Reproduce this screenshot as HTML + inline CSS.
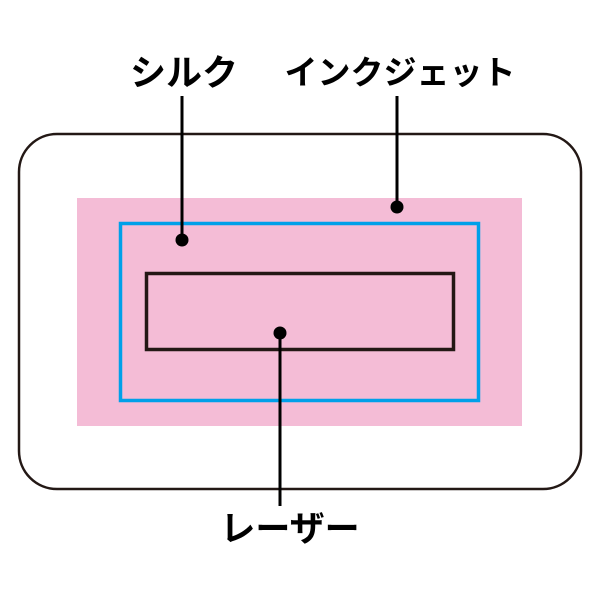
<!DOCTYPE html>
<html><head><meta charset="utf-8"><style>
html,body{margin:0;padding:0;background:#fff;}
</style></head><body>
<svg width="600" height="600" xmlns="http://www.w3.org/2000/svg" style="display:block">
<rect x="19" y="134" width="562" height="355" rx="38" ry="38" fill="#fff" stroke="#231815" stroke-width="2.5"/>
<rect x="77" y="198" width="445" height="228" fill="#f4bcd6"/>
<rect x="120.5" y="223.5" width="358" height="177" fill="none" stroke="#00a0e9" stroke-width="3.5"/>
<rect x="146.5" y="273.5" width="307" height="76" fill="none" stroke="#231815" stroke-width="3.5"/>
<g stroke="#000" stroke-width="3">
<line x1="182" y1="240" x2="182" y2="96"/>
<line x1="397" y1="207" x2="397" y2="96"/>
<line x1="280" y1="333" x2="280" y2="506"/>
</g>
<g fill="#000">
<circle cx="182" cy="240" r="6.5"/>
<circle cx="397" cy="207" r="6.5"/>
<circle cx="280" cy="333" r="6.5"/>
</g>
<g font-family="'Liberation Sans','Noto Sans CJK JP',sans-serif" font-weight="bold" fill="#000" text-anchor="middle">
<text x="184" y="85" font-size="36">シルク</text>
<text x="400" y="84" font-size="33">インクジェット</text>
<text x="290" y="541" font-size="35">レーザー</text>
</g>
</svg>
</body></html>
